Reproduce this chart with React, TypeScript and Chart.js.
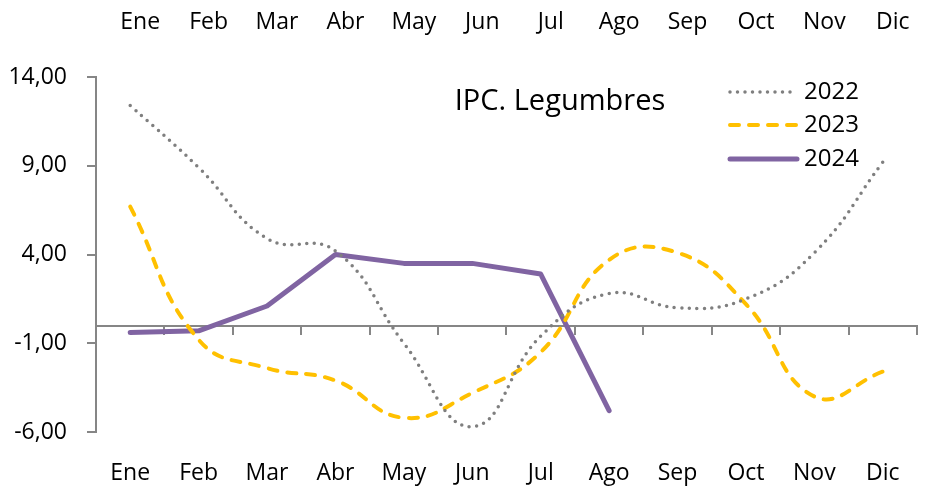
import React, { useEffect, useRef } from "react";
import { Chart, registerables } from "chart.js";

Chart.register(...registerables);

const months = ["Ene", "Feb", "Mar", "Abr", "May", "Jun", "Jul", "Ago", "Sep", "Oct", "Nov", "Dic"];
const ipc2022 = [12.4, 8.9, 4.9, 4.2, -1.0, -5.7, -0.6, 1.8, 1.0, 1.5, 4.1, 9.2];
const ipc2023 = [6.7, -0.8, -2.4, -3.1, -5.2, -3.8, -1.5, 3.7, 4.1, 1.2, -4.0, -2.6];
const ipc2024 = [-0.4, -0.3, 1.1, 4.0, 3.5, 3.5, 2.9, -4.8];
const yTicks = [-6, -1, 4, 9, 14];
const chartTitle = "IPC. Legumbres";

const FONT = "'Open Sans', 'Noto Sans', sans-serif";
const AXIS_GRAY = "#868686";

const overlayPlugin = {
  id: "overlay",
  afterDatasetsDraw(chart: any) {
    const ctx = chart.ctx;
    ctx.save();
    // title
    ctx.fillStyle = "#000";
    ctx.font = `29px ${FONT}`;
    ctx.textAlign = "center";
    ctx.textBaseline = "middle";
    ctx.fillText(chartTitle, 560, 102);
    // legend
    const rows = [92, 125, 159];
    chart.data.datasets.forEach((ds: any, i: number) => {
      const y = rows[i];
      ctx.beginPath();
      ctx.strokeStyle = ds.borderColor;
      ctx.lineWidth = ds.borderWidth;
      ctx.lineCap = ds.borderCapStyle || "butt";
      ctx.setLineDash(ds.borderDash || []);
      ctx.moveTo(730, y);
      ctx.lineTo(797, y);
      ctx.stroke();
      ctx.setLineDash([]);
      ctx.fillStyle = "#000";
      ctx.font = `24px ${FONT}`;
      ctx.textAlign = "left";
      ctx.textBaseline = "middle";
      ctx.fillText(ds.label, 804, y);
    });
    ctx.restore();
  },
};

const noSidePadding = (s: any) => {
  s.paddingLeft = 0;
  s.paddingRight = 0;
};

export default function App() {
  const ref = useRef<HTMLCanvasElement>(null);
  useEffect(() => {
    if (!ref.current) return;
    const chart = new Chart(ref.current, {
      type: "line",
      data: {
        labels: months,
        datasets: [
          {
            label: "2022",
            data: ipc2022,
            xAxisID: "x",
            borderColor: "#7f7f7f",
            borderWidth: 3.5,
            borderDash: [0, 7.5],
            borderCapStyle: "round",
            tension: 0.45,
            pointRadius: 0,
            fill: false,
          },
          {
            label: "2023",
            data: ipc2023,
            xAxisID: "x",
            borderColor: "#FFC000",
            borderWidth: 4,
            borderDash: [9, 10],
            borderCapStyle: "round",
            tension: 0.45,
            pointRadius: 0,
            fill: false,
          },
          {
            label: "2024",
            data: ipc2024,
            xAxisID: "x",
            borderColor: "#8064A2",
            borderWidth: 5,
            borderCapStyle: "round",
            borderJoinStyle: "round",
            tension: 0,
            pointRadius: 0,
            fill: false,
          },
        ],
      },
      options: {
        animation: false,
        responsive: true,
        maintainAspectRatio: false,
        layout: { padding: { left: 0, right: 12, top: 0, bottom: 0 } },
        plugins: {
          legend: { display: false },
          title: { display: false },
          tooltip: { enabled: false },
        },
        scales: {
          x: {
            type: "category",
            position: "bottom",
            offset: true,
            grid: { display: false },
            border: { display: false },
            ticks: {
              color: "#000",
              padding: 20,
              maxRotation: 0,
              autoSkip: false,
              font: { family: FONT, size: 23 },
            },
            afterFit: (s: any) => {
              s.height = 57;
              noSidePadding(s);
            },
          },
          xTop: {
            type: "category",
            position: "top",
            offset: true,
            grid: { display: false },
            border: { display: false },
            ticks: {
              color: "#000",
              padding: 33,
              labelOffset: 10,
              maxRotation: 0,
              autoSkip: false,
              font: { family: FONT, size: 23 },
            },
            afterFit: (s: any) => {
              s.height = 77;
              noSidePadding(s);
            },
          },
          xZero: {
            type: "category",
            position: { y: 0 } as any,
            offset: true,
            grid: {
              display: true,
              drawOnChartArea: false,
              drawTicks: true,
              tickLength: 8,
              offset: true,
              color: AXIS_GRAY,
              lineWidth: 2,
            },
            border: { display: true, color: AXIS_GRAY, width: 2 },
            ticks: { display: false },
            afterFit: noSidePadding,
          },
          y: {
            type: "linear",
            position: "left",
            min: -6,
            max: 14,
            afterBuildTicks: (s: any) => {
              s.ticks = yTicks.map((v) => ({ value: v }));
            },
            grid: {
              display: true,
              drawOnChartArea: false,
              drawTicks: true,
              tickLength: 9,
              color: AXIS_GRAY,
              lineWidth: 2,
            },
            border: { display: true, color: AXIS_GRAY, width: 2 },
            ticks: {
              color: "#000",
              padding: 20,
              font: { family: FONT, size: 23 },
              callback: (v: any) => Number(v).toFixed(2).replace(".", ","),
            },
            afterFit: (s: any) => {
              s.width = 96;
              s.paddingTop = 0;
              s.paddingBottom = 0;
            },
          },
        },
      } as any,
      plugins: [overlayPlugin],
    });
    return () => chart.destroy();
  }, []);
  return (
    <div style={{ position: "fixed", left: 0, top: 0, width: 929, height: 489, background: "#fff" }}>
      <canvas ref={ref} />
    </div>
  );
}
